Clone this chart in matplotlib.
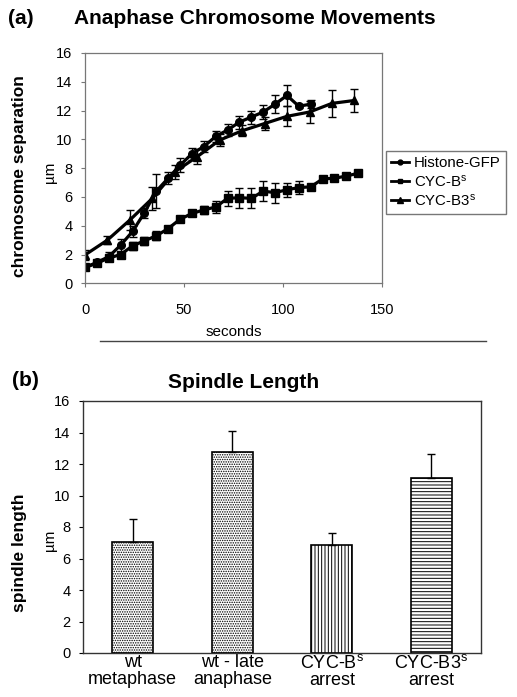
import numpy as np
import matplotlib
matplotlib.use("Agg")
import matplotlib.pyplot as plt
from matplotlib.lines import Line2D

plt.rcParams['font.family'] = ['Liberation Sans', 'DejaVu Sans']
plt.rcParams['hatch.linewidth'] = 0.7
plt.rcParams['mathtext.default'] = 'regular'

# ---- panel (a): chromosome separation vs time ----
histone_t = [0, 6, 12, 18, 24, 30, 36, 42, 48, 54, 60, 66, 72, 78, 84, 90, 96, 102, 108, 114]
histone_v = [1.1, 1.45, 1.85, 2.65, 3.6, 4.9, 6.4, 7.3, 8.2, 9.0, 9.5, 10.2, 10.65, 11.2, 11.55,
             11.9, 12.45, 13.05, 12.3, 12.45]
histone_err = [0, 0, 0.3, 0.45, 0.35, 0.35, 1.2, 0.4, 0.5, 0.4, 0.4, 0.35, 0.4, 0.45, 0.45,
               0.5, 0.6, 0.75, 0.1, 0.3]

cycb_t = [0, 6, 12, 18, 24, 30, 36, 42, 48, 54, 60, 66, 72, 78, 84, 90, 96, 102, 108, 114,
          120, 126, 132, 138]
cycb_v = [1.1, 1.4, 1.75, 2.0, 2.6, 2.95, 3.3, 3.8, 4.45, 4.85, 5.1, 5.3, 5.9, 5.95, 5.9,
          6.4, 6.3, 6.5, 6.65, 6.7, 7.25, 7.3, 7.45, 7.65]
cycb_err = [0.1, 0.1, 0.2, 0.2, 0.3, 0.3, 0.3, 0.2, 0.15, 0.2, 0.3, 0.4, 0.5, 0.7, 0.7,
            0.7, 0.7, 0.5, 0.45, 0, 0, 0, 0, 0]

cycb3_t = [0, 11.3, 22.7, 34, 45.4, 56.7, 68, 79.4, 90.7, 102, 113.4, 124.7, 136]
cycb3_v = [1.97, 3.0, 4.4, 5.9, 7.75, 8.8, 9.95, 10.6, 11.1, 11.6, 11.9, 12.5, 12.7]
cycb3_err = [0.35, 0.3, 0.7, 0.8, 0.5, 0.5, 0.4, 0.4, 0.45, 0.7, 0.75, 0.95, 0.8]

series_labels = ['Histone-GFP', 'CYC-B$^{s}$', 'CYC-B3$^{s}$']

# ---- panel (b): spindle length ----
bar_labels = ['wt\nmetaphase', 'wt - late\nanaphase', 'CYC-B$^{s}$\narrest', 'CYC-B3$^{s}$\narrest']
bar_values = [7.07, 12.78, 6.86, 11.1]
bar_err = [1.42, 1.32, 0.74, 1.54]
bar_hatches = ['.......', '.......', '|||||', '-----']

fig = plt.figure(figsize=(5.17, 6.97), dpi=100)
W, H = 517, 697

def ax_rect(l, t, r, b):
    return [l / W, 1 - b / H, (r - l) / W, (b - t) / H]

frame_col = '#777777'

ax1 = fig.add_axes(ax_rect(85, 53, 382, 283.3))
ebkw = dict(color='black', lw=2.3, elinewidth=1.0, capsize=3, capthick=1.0)
ax1.errorbar(histone_t, histone_v, yerr=histone_err, marker='o', ms=5.5, **ebkw)
ax1.errorbar(cycb_t, cycb_v, yerr=cycb_err, marker='s', ms=5.5, **ebkw)
ax1.errorbar(cycb3_t, cycb3_v, yerr=cycb3_err, marker='^', ms=6, **ebkw)
ax1.set_xlim(0, 150)
ax1.set_ylim(0, 16)
ax1.set_xticks([0, 50, 100, 150])
ax1.set_yticks(range(0, 17, 2))
ax1.tick_params(labelsize=10.5, length=3, color=frame_col, pad=6)
ax1.tick_params(axis='x', pad=11)
for s in ax1.spines.values():
    s.set_color(frame_col)
    s.set_linewidth(0.9)
ax1.set_xlabel('seconds', fontsize=11, labelpad=6)

handles = [Line2D([], [], color='black', lw=2, marker=m, ms=ms) for m, ms in
           [('o', 3.5), ('s', 3.5), ('^', 4)]]
fig.legend(handles, series_labels, loc='upper left', bbox_to_anchor=(386 / W, 1 - 151 / H),
           frameon=True, fancybox=False, edgecolor='#555555', fontsize=10.8,
           handlelength=1.2, handletextpad=0.3, borderpad=0.35, labelspacing=0.2,
           borderaxespad=0)

fig.text(8 / W, 1 - 18 / H, '(a)', fontsize=15, fontweight='bold', va='center')
fig.text(255 / W, 1 - 19 / H, 'Anaphase Chromosome Movements', fontsize=15,
         fontweight='bold', ha='center', va='center')
fig.text(20 / W, 1 - 176 / H, 'chromosome separation', fontsize=12.5, fontweight='bold',
         rotation=90, ha='center', va='center')
fig.text(50 / W, 1 - 172 / H, 'µm', fontsize=11, rotation=90, ha='center', va='center')

fig.add_artist(Line2D([100 / W, 486 / W], [1 - 341 / H, 1 - 341 / H], color='#444444', lw=1.0))

# ---- panel (b) ----
ax2 = fig.add_axes(ax_rect(83, 401, 481, 653))
x = np.arange(len(bar_values))
for i in range(len(bar_values)):
    ax2.bar(x[i], bar_values[i], width=0.41, color='white', edgecolor='black',
            hatch=bar_hatches[i], linewidth=1.2)
    ax2.errorbar(x[i], bar_values[i], yerr=[[0], [bar_err[i]]], color='black',
                 elinewidth=1.0, capsize=3, capthick=1.0)
ax2.set_xlim(-0.5, 3.5)
ax2.set_ylim(0, 16)
ax2.set_yticks(range(0, 17, 2))
ax2.set_xticks(x)
ax2.set_xticklabels(bar_labels, fontsize=13, linespacing=0.97)
ax2.tick_params(axis='x', length=0, pad=1)
ax2.tick_params(axis='y', labelsize=10.5, length=3, pad=6)
for s in ax2.spines.values():
    s.set_color('#333333')
    s.set_linewidth(1.0)

fig.text(12 / W, 1 - 380 / H, '(b)', fontsize=15, fontweight='bold', va='center')
fig.text(244 / W, 1 - 382 / H, 'Spindle Length', fontsize=15, fontweight='bold',
         ha='center', va='center')
fig.text(20 / W, 1 - 553 / H, 'spindle length', fontsize=12.5, fontweight='bold',
         rotation=90, ha='center', va='center')
fig.text(50 / W, 1 - 540 / H, 'µm', fontsize=11, rotation=90, ha='center', va='center')

fig.savefig('out.png', dpi=100)
